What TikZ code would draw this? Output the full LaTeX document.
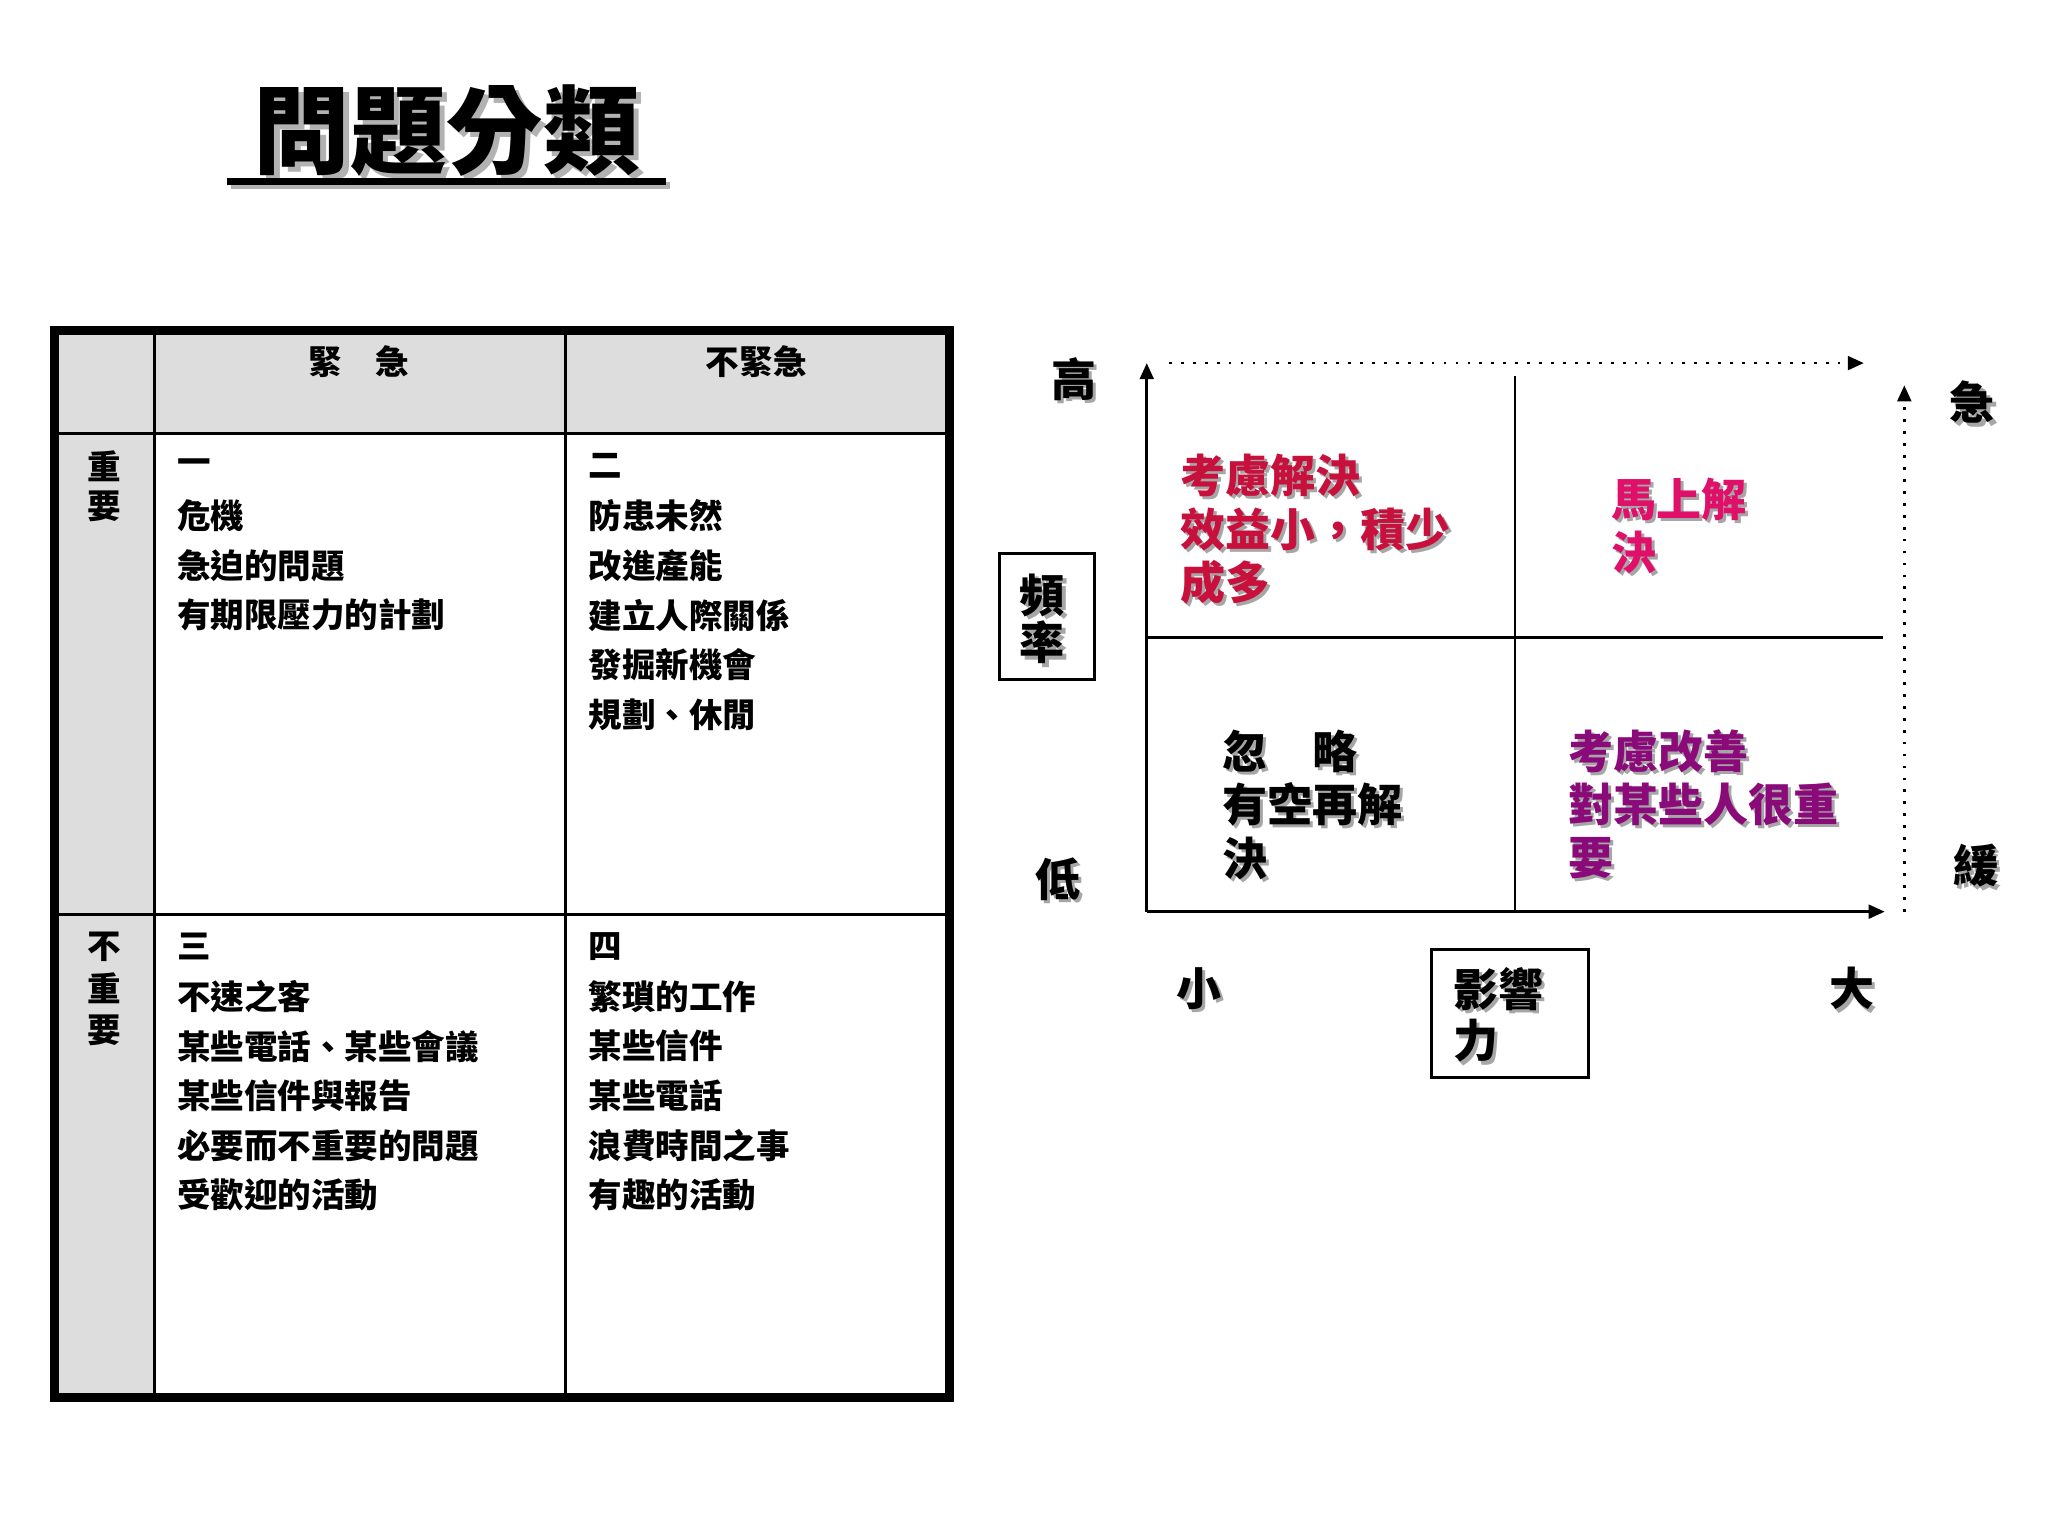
\documentclass[tikz,border=0pt]{standalone}
\usepackage{fontspec}
\setmainfont{Noto Sans CJK TC}
\newfontfamily\cjkb{Noto Sans CJK TC Bold}
\usetikzlibrary{arrows.meta}
\definecolor{crim}{HTML}{C8103C}
\definecolor{mag}{HTML}{E0106A}
\definecolor{purp}{HTML}{8A0A7A}
\definecolor{hdr}{HTML}{DDDDDD}
\tikzset{
 cell/.style={anchor=west,font=\fontsize{7.3pt}{8pt}\selectfont\bfseries,inner sep=0},
 quad/.style={anchor=west,font=\fontsize{9.8pt}{11pt}\selectfont\bfseries,inner sep=0,align=left},
 lab/.style={font=\fontsize{9.8pt}{11pt}\selectfont\bfseries,inner sep=0},
 axis/.style={line width=0.6pt,-{Triangle[length=3.5pt,width=3pt]}},
 dots/.style={line width=0.6pt,dotted,-{Triangle[length=3.5pt,width=3pt]}},
}
\newcommand\shnode[4]{%
 \node[#1,text=gray!70] at ([xshift=0.025cm,yshift=-0.025cm]#2) {#4};
 \node[#1,text=#3] at (#2) {#4};}
\begin{document}
\begin{tikzpicture}[x=0.01cm,y=-0.01cm]
\useasboundingbox (0,0) rectangle (1568,1176);
% title
\node[inner sep=0,font=\fontsize{21pt}{24pt}\selectfont\bfseries,text=gray!60] (tsh) at (346,104) {問題分類};
\node[inner sep=0,font=\fontsize{21pt}{24pt}\selectfont\bfseries] (title) at (342,100) {問題分類};
\draw[line width=1.6pt,gray!60] (177,142) -- (513,142);
\draw[line width=1.6pt] (174,139) -- (510,139);
% table
\fill[hdr] (42,253) rectangle (727,332);
\fill[hdr] (42,253) rectangle (118,1070);
\draw[line width=0.6pt] (118,253) -- (118,1070) (433,253) -- (433,1070) (42,332) -- (727,332) (42,700) -- (727,700);
\draw[line width=2pt] (42,253) rectangle (727,1070);
\node[cell,anchor=center] (h1) at (275,277) {緊　急};
\node[cell,anchor=center] (h2) at (579,277) {不緊急};
\foreach \t/\y [count=\i] in {重/357,要/388} \node[cell,anchor=center] (r1\i) at (80,\y) {\t};
\foreach \t/\y [count=\i] in {不/725,重/757,要/789} \node[cell,anchor=center] (r2\i) at (80,\y) {\t};
\foreach \t [count=\i] in {一,危機,急迫的問題,有期限壓力的計劃}
  \node[cell] (a\i) at (135,319+38*\i) {\t};
\foreach \t [count=\i] in {二,防患未然,改進產能,建立人際關係,發掘新機會,規劃、休閒}
  \node[cell] (b\i) at (450,319+38*\i) {\t};
\foreach \t [count=\i] in {三,不速之客,某些電話、某些會議,某些信件與報告,必要而不重要的問題,受歡迎的活動}
  \node[cell] (c\i) at (135,687+38*\i) {\t};
\foreach \t [count=\i] in {四,繁瑣的工作,某些信件,某些電話,浪費時間之事,有趣的活動}
  \node[cell] (d\i) at (450,687+38*\i) {\t};
% chart
\coordinate (o) at (878,698);
\coordinate (yt) at (878,278);
\coordinate (xr) at (1443,698);
\draw[axis] (o) -- (yt);
\draw[axis] (o) -- (xr);
\draw[line width=0.6pt] (1160,288) -- (1160,698) (878,488) -- (1442,488);
\coordinate (d1) at (895,278); \coordinate (d2) at (1427,278);
\draw[dots] (d1) -- (d2);
\coordinate (e1) at (1458,698); \coordinate (e2) at (1458,295);
\draw[dots] (e1) -- (e2);
\shnode{lab}{822,290}{black}{高}
\shnode{lab}{810,673}{black}{低}
\shnode{lab}{1510,308}{black}{急}
\shnode{lab}{1513,663}{black}{緩}
\shnode{lab}{918,757}{black}{小}
\shnode{lab}{1418,757}{black}{大}
\draw[line width=0.6pt] (765,424) rectangle (838,520);
\shnode{lab}{798,456}{black}{頻}
\shnode{lab}{798,492}{black}{率}
\draw[line width=0.6pt] (1096,727) rectangle (1216,825);
\shnode{quad}{1112,757}{black}{影響}
\shnode{quad}{1112,797}{black}{力}
\foreach \t [count=\i] in {考慮解決,效益小，積少,成多} {\shnode{quad}{903,323+41*\i}{crim}{\t}}
\foreach \t [count=\i] in {馬上解,決} {\shnode{quad}{1233,341+41*\i}{mag}{\t}}
\foreach \t [count=\i] in {忽　略,有空再解,決} {\shnode{quad}{935,534+41*\i}{black}{\t}}
\foreach \t [count=\i] in {考慮改善,對某些人很重,要} {\shnode{quad}{1200,534+41*\i}{purp}{\t}}
\end{tikzpicture}
\end{document}
